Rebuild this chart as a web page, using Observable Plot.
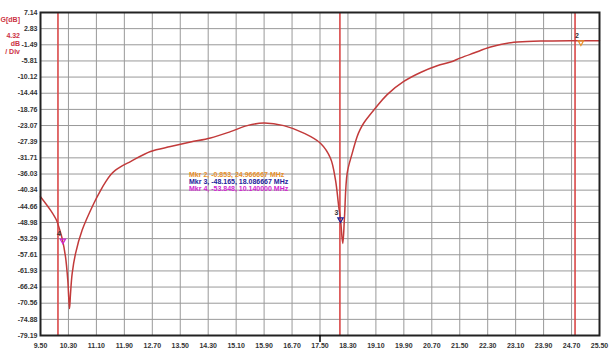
<!DOCTYPE html>
<html>
<head>
<meta charset="utf-8">
<script src="https://cdn.jsdelivr.net/npm/d3@7"></script>
<script src="https://cdn.jsdelivr.net/npm/@observablehq/plot@0.6"></script>
<style>
  html, body { margin: 0; padding: 0; background: #fff; }
  #wrap { position: relative; width: 616px; height: 359px; overflow: hidden; }
  .hdr { position: absolute; font-family: "Liberation Sans", Arial, sans-serif; font-weight: bold; font-size: 7px; color: #cc3344; text-align: right; width: 20px; line-height: 8px; }
  .leg { position: absolute; left: 189px; font-family: "Liberation Sans", Arial, sans-serif; font-weight: bold; font-size: 7px; line-height: 7px; white-space: nowrap; }
</style>
</head>
<body>
<div id="wrap"></div>
<script>
// Trace (frequency in MHz, gain in dB)
const freqs = [9.500, 9.786, 9.958, 10.052, 10.121, 10.216, 10.281, 10.330, 10.359, 10.407, 10.502, 10.693, 11.025, 11.217, 11.360, 11.503, 11.647, 11.790, 12.076, 12.648, 13.221, 13.793, 14.365, 14.938, 15.416, 15.891, 16.463, 17.036, 17.512, 17.800, 17.943, 18.037, 18.086, 18.152, 18.201, 18.278, 18.421, 18.564, 18.650, 18.753, 19.088, 19.423, 19.898, 20.376, 20.854, 21.234, 21.521, 21.901, 22.379, 23.046, 23.808, 24.763, 25.500];
const gains = [-42.1, -45.7, -48.4, -51.0, -53.3, -58.2, -64.4, -72.0, -68.0, -62.6, -57.3, -51.0, -43.9, -40.45, -38.2, -36.3, -35.0, -34.1, -32.7, -30.0, -28.7, -27.5, -26.4, -24.7, -23.1, -22.4, -23.1, -25.1, -27.8, -31.8, -37.6, -44.8, -48.0, -54.6, -47.5, -35.8, -30.5, -26.0, -24.1, -22.4, -18.4, -14.8, -11.3, -8.9, -7.1, -6.1, -5.0, -3.7, -2.1, -0.8, -0.5, -0.4, -0.4];

// Axis ticks
const xTicks = [9.50, 10.30, 11.10, 11.90, 12.70, 13.50, 14.30, 15.10, 15.90, 16.70, 17.50, 18.30, 19.10, 19.90, 20.70, 21.50, 22.30, 23.10, 23.90, 24.70, 25.50];
const yTicks = [7.14, 2.83, -1.49, -5.81, -10.12, -14.44, -18.76, -23.07, -27.39, -31.71, -36.03, -40.34, -44.66, -48.98, -53.29, -57.61, -61.93, -66.24, -70.56, -74.88, -79.19];

// Vertical marker lines and center frequency
const markerLines = [10.0, 18.07, 24.8];
const centerFreq = [17.5];

// Markers
const markerIds = ["2", "3", "4"];
const markerFreqs = [24.966667, 18.086667, 10.140000];
const markerGains = [-0.853, -48.165, -53.848];
const markerColors = ["#e8902a", "#22229a", "#d028d0"];

const trace = freqs.map((f, i) => ({f, g: gains[i]}));
const markers = markerIds.map((id, i) => ({id, f: markerFreqs[i], g: markerGains[i], c: markerColors[i]}));

const yMin = yTicks[yTicks.length - 1], yMax = yTicks[0];

const chart = Plot.plot({
  width: 616, height: 359,
  marginLeft: 40, marginRight: 17, marginTop: 12, marginBottom: 24,
  style: { fontFamily: "Liberation Sans, Arial, sans-serif", fontSize: "7px", fontWeight: "bold", color: "#333", background: "#fff" },
  x: { domain: [xTicks[0], xTicks[xTicks.length - 1]] },
  y: { domain: [yMin, yMax] },
  marks: [
    Plot.gridX(xTicks, { stroke: "#999", strokeOpacity: 1 }),
    Plot.gridY(yTicks, { stroke: "#999", strokeOpacity: 1 }),
    Plot.ruleX(markerLines, { stroke: "#d94848", strokeWidth: 1.6 }),
    Plot.line(trace, { x: "f", y: "g", stroke: "#c23a3a", strokeWidth: 1.5, curve: "catmull-rom" }),
    Plot.frame({ stroke: "#222", strokeWidth: 2 }),
    Plot.ruleX(centerFreq, { y1: yMin, y2: yMin, insetBottom: -7, stroke: "#000", strokeWidth: 1.5 }),
    Plot.dot(markers, { x: "f", y: "g", symbol: "triangle", r: 2, stroke: "c", strokeWidth: 1.2, fill: "none", rotate: 180 }),
    Plot.text(markers, { x: "f", y: "g", text: "id", fill: "#333", fontSize: 7, dx: -4, dy: -7 }),
    Plot.axisX(xTicks, { tickSize: 0, tickPadding: 8, tickFormat: d => d.toFixed(2), label: null }),
    Plot.axisY(yTicks, { tickSize: 0, tickPadding: 3, tickFormat: d => d.toFixed(2), label: null })
  ]
});

const wrap = document.getElementById("wrap");
wrap.appendChild(chart);

const hdr = [["G[dB]", 16], ["4.32", 32], ["dB", 40], ["/ Div", 48]];
hdr.forEach(([t, top]) => {
  const d = document.createElement("div");
  d.className = "hdr"; d.textContent = t; d.style.left = "0px"; d.style.top = top + "px";
  wrap.appendChild(d);
});

markers.forEach((m, i) => {
  const d = document.createElement("div");
  d.className = "leg";
  d.style.top = (171 + i * 7) + "px";
  d.style.color = m.c;
  d.textContent = `Mkr ${m.id}, ${m.g.toFixed(3)}, ${m.f.toFixed(6)} MHz`;
  wrap.appendChild(d);
});
</script>
</body>
</html>
